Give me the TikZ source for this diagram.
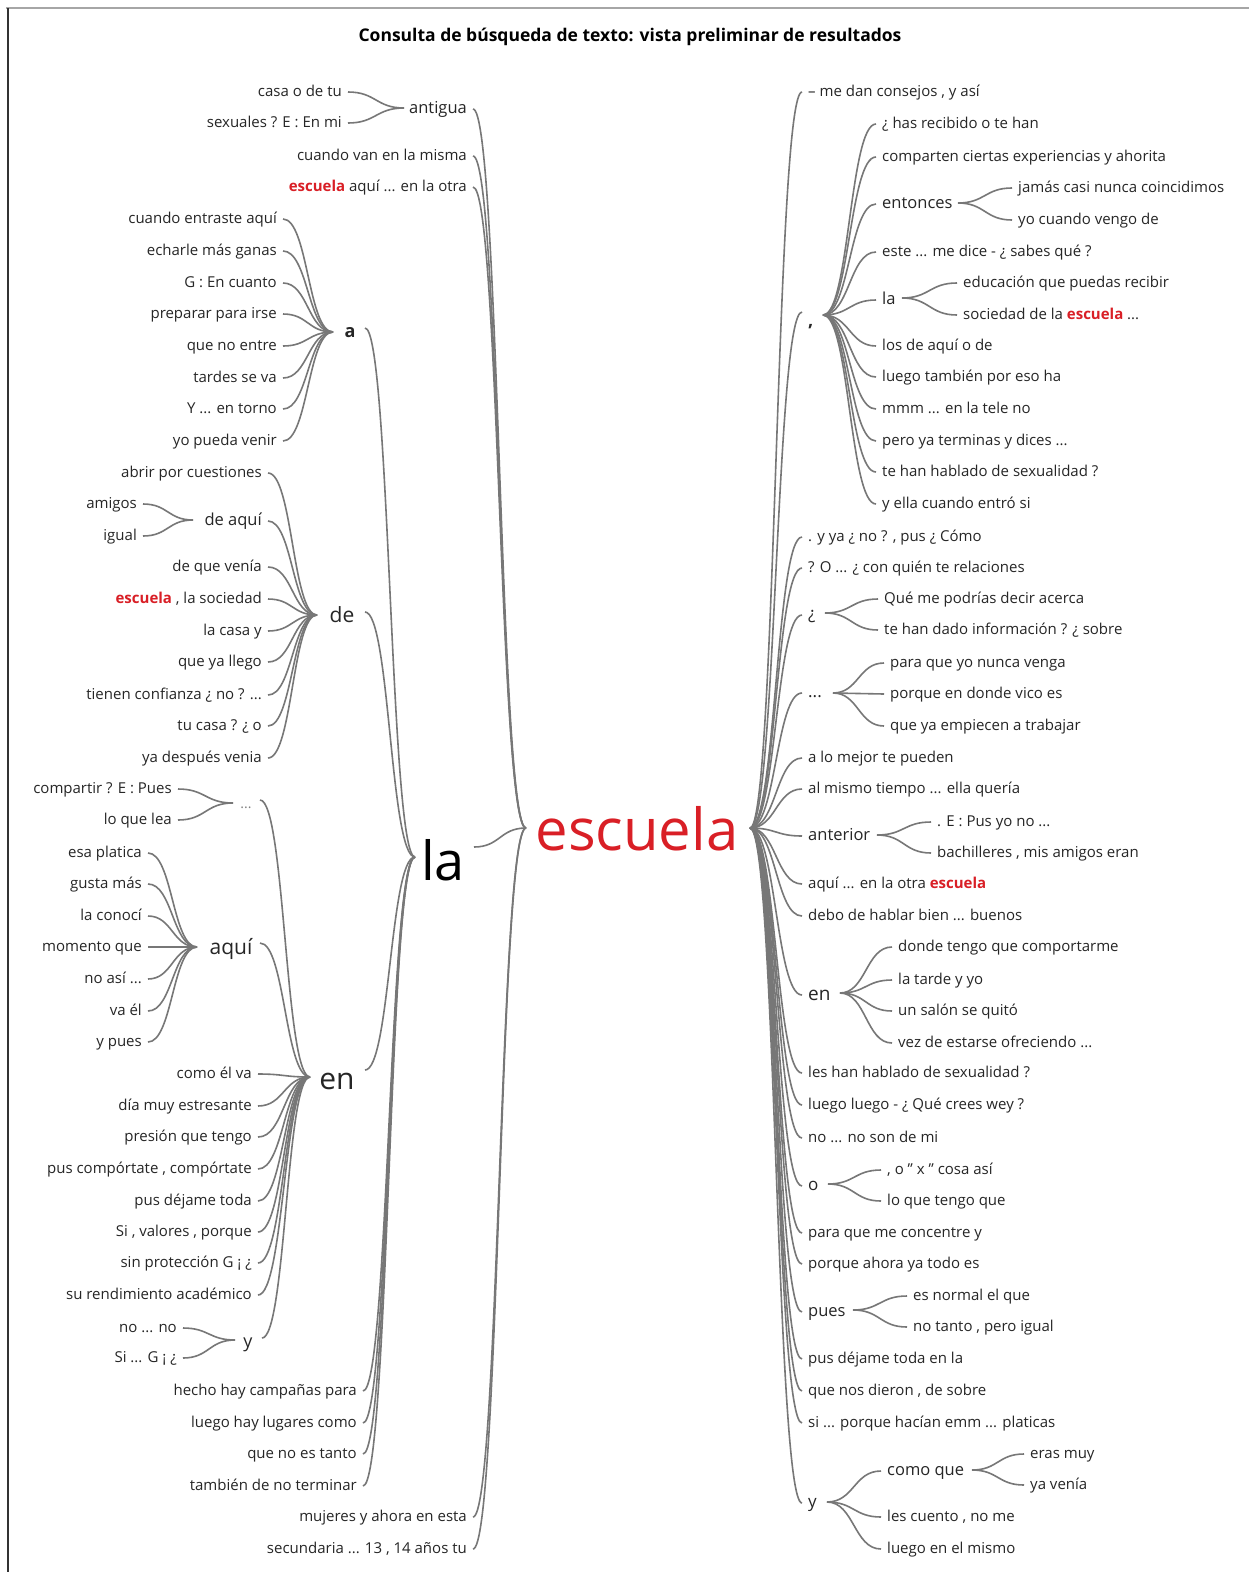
\documentclass[tikz,border=0pt]{standalone}
\usepackage{fontspec}
\setmainfont{Open Sans}
\usetikzlibrary{calc}
\definecolor{txt}{HTML}{262626}
\definecolor{lnk}{HTML}{777777}
\definecolor{hl}{HTML}{D91F26}
\tikzset{
  tx/.style={inner xsep=6pt, inner ysep=0pt, text depth=0pt, text=txt},
  s15/.style={font=\fontsize{15}{18}\selectfont, text height=8pt},
  s16/.style={font=\fontsize{16.5}{20}\selectfont, text height=8.8pt},
  s17/.style={font=\fontsize{17}{20}\selectfont, text height=9pt},
  s18/.style={font=\fontsize{18}{21}\selectfont, text height=9.6pt},
  s19/.style={font=\fontsize{19}{22}\selectfont, text height=10pt},
  s21/.style={font=\fontsize{21}{24}\selectfont, text height=11.2pt},
  s30/.style={font=\fontsize{30}{34}\selectfont, text height=16pt},
  lw/.style={tx, s15, anchor=east},
  rw/.style={tx, s15, anchor=west},
  mid/.style={tx, anchor=center},
  lk/.style={draw=lnk, line width=1.6pt},
}
\newcommand\hi{\textcolor{hl}{\textbf{escuela}}}
% S-shaped word-tree branch from a left point to a right point
\newcommand\wt[2]{\draw[lk] let \p1=(#1),\p2=(#2),\n1={0.5*(\x2-\x1)} in
  (\p1) .. controls +(\n1,0pt) and +(-\n1,0pt) .. (\p2);}

\begin{document}
\begin{tikzpicture}[x=1pt,y=-1pt]
\useasboundingbox (0,0) rectangle (1249,1572);
\fill[white] (0,0) rectangle (1249,1572);
% window frame
\draw[gray!70, line width=2pt] (6,8) -- (1249,8);
\draw[black!80, line width=1.5pt] (8,8) -- (8,1572);

\node[font=\bfseries\fontsize{17.5}{20}\selectfont, text=black] (title) at (630,37)
  {Consulta de búsqueda de texto: vista preliminar de resultados};

% ---------- root ----------
\node[font=\fontsize{58}{60}\selectfont, text=hl, anchor=base, inner sep=0pt] (esc) at (637,850) {escuela};
\coordinate (eL) at (526,828);
\coordinate (eR) at (750,828);

% ---------- left tree ----------
\node[font=\fontsize{54}{56}\selectfont, text=black, anchor=base, inner sep=0pt] (la) at (443,880) {la};
\coordinate (laI) at (415,857);
\coordinate (laO) at (474,847);
\wt{laO}{eL}

% antigua
\node[tx, s16, anchor=east] (ant) at (473,109) {antigua};
\coordinate (antI) at (404,108);
\wt{ant.east}{eL}
\node[lw] (ant1) at (348,92) {casa o de tu};
\node[lw] (ant2) at (348,123) {sexuales ? E : En mi};
\wt{ant1.east}{antI} \wt{ant2.east}{antI}

\node[lw] (l2) at (473,156) {cuando van en la misma};
\node[lw] (l3) at (473,187) {\hi{} aquí ... en la otra};
\node[lw] (l4) at (473,1517) {mujeres y ahora en esta};
\node[lw] (l5) at (473,1549) {secundaria ... 13 , 14 años tu};
\foreach \k in {l2,l3,l4,l5} {\wt{\k.east}{eL}}

% a
\node[mid, s18, font=\bfseries\fontsize{18}{21}\selectfont] (na) at (350,333) {a};
\coordinate (aI) at (333,332);
\coordinate (aO) at (365,328);
\wt{aO}{laI}
\node[lw] (a1) at (283,219) {cuando entraste aquí};
\node[lw] (a2) at (283,251) {echarle más ganas};
\node[lw] (a3) at (283,283) {G : En cuanto};
\node[lw] (a4) at (283,314) {preparar para irse};
\node[lw] (a5) at (283,346) {que no entre};
\node[lw] (a6) at (283,378) {tardes se va};
\node[lw] (a7) at (283,409) {Y ... en torno};
\node[lw] (a8) at (283,441) {yo pueda venir};
\foreach \k in {a1,a2,a3,a4,a5,a6,a7,a8} {\wt{\k.east}{aI}}

% de
\node[mid, s21] (nde) at (342,617) {de};
\coordinate (deI) at (317,615);
\coordinate (deO) at (365,612);
\wt{deO}{laI}
\node[lw] (d1) at (268,473) {abrir por cuestiones};
\node[tx, s16, anchor=east] (daq) at (268,521) {de aquí};
\node[lw] (d3) at (268,567) {de que venía};
\node[lw] (d4) at (268,599) {\hi{} , la sociedad};
\node[lw] (d5) at (268,631) {la casa y};
\node[lw] (d6) at (268,662) {que ya llego};
\node[lw] (d7) at (268,695) {tienen confianza ¿ no ? ...};
\node[lw] (d8) at (268,726) {tu casa ? ¿ o};
\node[lw] (d9) at (268,758) {ya después venia};
\foreach \k in {d1,daq,d3,d4,d5,d6,d7,d8,d9} {\wt{\k.east}{deI}}
\coordinate (daqI) at (193,520);
\node[lw] (dq1) at (143,504) {amigos};
\node[lw] (dq2) at (143,536) {igual};
\wt{dq1.east}{daqI} \wt{dq2.east}{daqI}

% en
\node[mid, s30] (nen) at (337,1081) {en};
\coordinate (enI) at (310,1077);
\coordinate (enO) at (365,1070);
\wt{enO}{laI}

% ... (under en)
\node[mid, font=\fontsize{14}{16}\selectfont, text height=7.5pt, text=gray] (ldot) at (246,805) {...};
\coordinate (ldI) at (233,803);
\coordinate (ldO) at (260,800);
\wt{ldO}{enI}
\node[lw] (ld1) at (178,789) {compartir ? E : Pues};
\node[lw] (ld2) at (178,820) {lo que lea};
\wt{ld1.east}{ldI} \wt{ld2.east}{ldI}

% aquí (under en)
\node[mid, s21] (naq) at (231,949) {aquí};
\coordinate (aqI) at (197,947);
\coordinate (aqO) at (260,943);
\wt{aqO}{enI}
\node[lw] (q1) at (148,853) {esa platica};
\node[lw] (q2) at (148,884) {gusta más};
\node[lw] (q3) at (148,916) {la conocí};
\node[lw] (q4) at (148,947) {momento que};
\node[lw] (q5) at (148,979) {no así ...};
\node[lw] (q6) at (148,1011) {va él};
\node[lw] (q7) at (148,1042) {y pues};
\foreach \k in {q1,q2,q3,q4,q5,q6,q7} {\wt{\k.east}{aqI}}

\node[lw] (e1) at (258,1074) {como él va};
\node[lw] (e2) at (258,1106) {día muy estresante};
\node[lw] (e3) at (258,1137) {presión que tengo};
\node[lw] (e4) at (258,1169) {pus compórtate , compórtate};
\node[lw] (e5) at (258,1201) {pus déjame toda};
\node[lw] (e6) at (258,1232) {Si , valores , porque};
\node[lw] (e7) at (258,1263) {sin protección G ¡ ¿};
\node[lw] (e8) at (258,1295) {su rendimiento académico};
\foreach \k in {e1,e2,e3,e4,e5,e6,e7,e8} {\wt{\k.east}{enI}}

% y (under en)
\node[mid, s18] (ny) at (248,1343) {y};
\coordinate (yI) at (235,1340);
\coordinate (yO) at (262,1338);
\wt{yO}{enI}
\node[lw] (y1) at (183,1328) {no ... no};
\node[lw] (y2) at (183,1358) {Si ... G ¡ ¿};
\wt{y1.east}{yI} \wt{y2.east}{yI}

% remaining leaves of la
\node[lw] (la1) at (363,1391) {hecho hay campañas para};
\node[lw] (la2) at (363,1423) {luego hay lugares como};
\node[lw] (la3) at (363,1454) {que no es tanto};
\node[lw] (la4) at (363,1486) {también de no terminar};
\foreach \k in {la1,la2,la3,la4} {\wt{\k.east}{laI}}

% ---------- right tree ----------
\node[rw] (r1) at (802,92) {– me dan consejos , y así};
\wt{eR}{r1.west}

% comma
\node[tx, s18, font=\bfseries\fontsize{18}{21}\selectfont, anchor=west] (rc) at (802,322) {,};
\coordinate (rcI) at (802,312);
\coordinate (rcO) at (823,315);
\wt{eR}{rcI}
\node[rw] (c1) at (876,124) {¿ has recibido o te han};
\node[rw] (c2) at (876,157) {comparten ciertas experiencias y ahorita};
\node[tx, s16, anchor=west] (ent) at (876,204) {entonces};
\node[rw] (c4) at (876,252) {este ... me dice - ¿ sabes qué ?};
\node[tx, s16, anchor=west] (rla) at (876,300) {la};
\node[rw] (c6) at (876,346) {los de aquí o de};
\node[rw] (c7) at (876,377) {luego también por eso ha};
\node[rw] (c8) at (876,409) {mmm ... en la tele no};
\node[rw] (c9) at (876,441) {pero ya terminas y dices ...};
\node[rw] (c10) at (876,472) {te han hablado de sexualidad ?};
\node[rw] (c11) at (876,504) {y ella cuando entró si};
\foreach \k in {c1,c2,ent,c4,rla,c6,c7,c8,c9,c10,c11} {\wt{rcO}{\k.west}}
\coordinate (entO) at (958,203);
\node[rw] (en1) at (1012,188) {jamás casi nunca coincidimos};
\node[rw] (en2) at (1012,220) {yo cuando vengo de};
\wt{entO}{en1.west} \wt{entO}{en2.west}
\coordinate (rlaO) at (902,298);
\node[rw] (rl1) at (957,283) {educación que puedas recibir};
\node[rw] (rl2) at (957,315) {sociedad de la \hi{} ...};
\wt{rlaO}{rl1.west} \wt{rlaO}{rl2.west}

\node[rw] (r3) at (802,537) {. y ya ¿ no ? , pus ¿ Cómo};
\node[rw] (r4) at (802,568) {? O ... ¿ con quién te relaciones};

% ¿
\node[tx, s17, anchor=west] (rq) at (802,615) {¿};
\coordinate (rqO) at (825,613);
\node[rw] (rq1) at (878,599) {Qué me podrías decir acerca};
\node[rw] (rq2) at (878,630) {te han dado información ? ¿ sobre};
\wt{rqO}{rq1.west} \wt{rqO}{rq2.west}

% ...
\node[tx, s17, anchor=west] (rd) at (802,693) {...};
\coordinate (rdO) at (833,693);
\node[rw] (rd1) at (884,663) {para que yo nunca venga};
\node[rw] (rd2) at (884,694) {porque en donde vico es};
\node[rw] (rd3) at (884,726) {que ya empiecen a trabajar};
\foreach \k in {rd1,rd2,rd3} {\wt{rdO}{\k.west}}

\node[rw] (r7) at (802,758) {a lo mejor te pueden};
\node[rw] (r8) at (802,789) {al mismo tiempo ... ella quería};

% anterior
\node[tx, s16, anchor=west] (rant) at (802,836) {anterior};
\coordinate (rantO) at (877,835);
\node[rw] (ra1) at (931,822) {. E : Pus yo no ...};
\node[rw] (ra2) at (931,853) {bachilleres , mis amigos eran};
\wt{rantO}{ra1.west} \wt{rantO}{ra2.west}

\node[rw] (r10) at (802,884) {aquí ... en la otra \hi};
\node[rw] (r11) at (802,916) {debo de hablar bien ... buenos};

% en
\node[tx, s19, anchor=west] (ren) at (802,995) {en};
\coordinate (renO) at (840,993);
\node[rw] (re1) at (892,947) {donde tengo que comportarme};
\node[rw] (re2) at (892,980) {la tarde y yo};
\node[rw] (re3) at (892,1011) {un salón se quitó};
\node[rw] (re4) at (892,1043) {vez de estarse ofreciendo ...};
\foreach \k in {re1,re2,re3,re4} {\wt{renO}{\k.west}}

\node[rw] (r13) at (802,1073) {les han hablado de sexualidad ?};
\node[rw] (r14) at (802,1105) {luego luego - ¿ Qué crees wey ?};
\node[rw] (r15) at (802,1138) {no ... no son de mi};

% o
\node[tx, s17, anchor=west] (ro) at (802,1186) {o};
\coordinate (roO) at (828,1184);
\node[rw] (ro1) at (881,1170) {, o " x " cosa así};
\node[rw] (ro2) at (881,1201) {lo que tengo que};
\wt{roO}{ro1.west} \wt{roO}{ro2.west}

\node[rw] (r17) at (802,1233) {para que me concentre y};
\node[rw] (r18) at (802,1264) {porque ahora ya todo es};

% pues
\node[tx, s16, anchor=west] (rp) at (802,1312) {pues};
\coordinate (rpO) at (853,1310);
\node[rw] (rp1) at (907,1296) {es normal el que};
\node[rw] (rp2) at (907,1327) {no tanto , pero igual};
\wt{rpO}{rp1.west} \wt{rpO}{rp2.west}

\node[rw] (r20) at (802,1359) {pus déjame toda en la};
\node[rw] (r21) at (802,1391) {que nos dieron , de sobre};
\node[rw] (r22) at (802,1423) {si ... porque hacían emm ... platicas};

% y
\node[tx, s17, anchor=west] (ry) at (802,1503) {y};
\coordinate (ryO) at (827,1502);
\node[tx, s16, anchor=west] (cq) at (881,1471) {como que};
\node[rw] (ry2) at (881,1517) {les cuento , no me};
\node[rw] (ry3) at (881,1549) {luego en el mismo};
\foreach \k in {cq,ry2,ry3} {\wt{ryO}{\k.west}}
\coordinate (cqO) at (972,1470);
\node[rw] (cq1) at (1024,1454) {eras muy};
\node[rw] (cq2) at (1024,1485) {ya venía};
\wt{cqO}{cq1.west} \wt{cqO}{cq2.west}

% first-level branches of the right side
\foreach \k in {r3,r4,rq,rd,r7,r8,rant,r10,r11,ren,r13,r14,r15,ro,r17,r18,rp,r20,r21,r22,ry}
  {\wt{eR}{\k.west}}
\end{tikzpicture}
\end{document}
